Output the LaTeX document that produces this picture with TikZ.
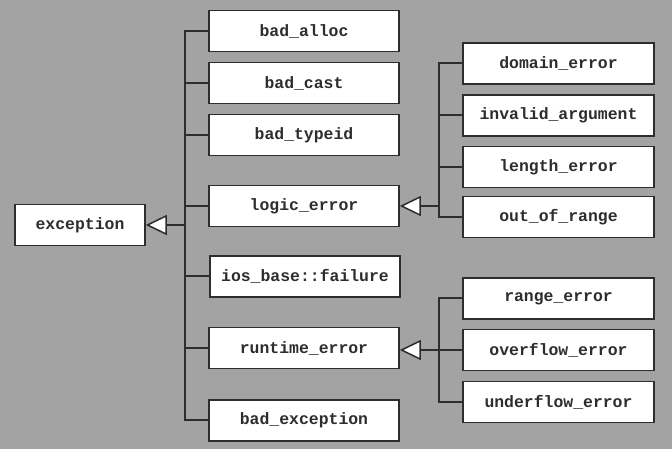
\documentclass[tikz,border=0pt]{standalone}
\usepackage{fontspec}
\setmonofont{Liberation Mono}
\usetikzlibrary{arrows.meta}
\definecolor{bggray}{RGB}{163,163,163}
\definecolor{inkgray}{RGB}{45,45,45}
\tikzset{
  cls/.style={draw=inkgray,line width=1.6bp,fill=white,rectangle,
    minimum width=190bp,minimum height=41bp,inner sep=0pt,
    text=inkgray,font=\ttfamily\bfseries\fontsize{16.5}{18}\selectfont},
  link/.style={draw=inkgray,line width=2bp},
  isa/.style={link,-{Triangle[fill=white,length=21bp,width=20bp,line width=1.5bp]}},
}
\begin{document}
\begin{tikzpicture}[line join=miter,]
    %%
    \fill [bggray] (0bp,0bp) rectangle (672bp,449bp);
    \useasboundingbox (0bp,0bp) rectangle (672bp,449bp);
    %%
    \node (exception) at (80.0bp,224.0bp) [cls,minimum width=130bp] {exception};
    \node (bad_alloc) at (304.0bp,418.0bp) [cls] {bad\_alloc};
    \node (bad_cast) at (304.0bp,366.0bp) [cls] {bad\_cast};
    \node (bad_typeid) at (304.0bp,314.0bp) [cls] {bad\_typeid};
    \node (logic_error) at (304.0bp,243.0bp) [cls] {logic\_error};
    \node (ios_failure) at (305.0bp,172.5bp) [cls] {ios\_base::failure};
    \node (runtime_error) at (304.0bp,101.0bp) [cls] {runtime\_error};
    \node (bad_exception) at (304.0bp,28.5bp) [cls] {bad\_exception};
    %
    \node (domain_error) at (558.5bp,385.5bp) [cls,minimum width=191bp] {domain\_error};
    \node (invalid_argument) at (558.5bp,333.5bp) [cls,minimum width=191bp] {invalid\_argument};
    \node (length_error) at (558.5bp,282.0bp) [cls,minimum width=191bp] {length\_error};
    \node (out_of_range) at (558.5bp,232.0bp) [cls,minimum width=191bp] {out\_of\_range};
    \node (range_error) at (558.5bp,150.5bp) [cls,minimum width=191bp] {range\_error};
    \node (overflow_error) at (558.5bp,99.0bp) [cls,minimum width=191bp] {overflow\_error};
    \node (underflow_error) at (558.5bp,47.0bp) [cls,minimum width=191bp] {underflow\_error};
    %%
    \coordinate (trunk) at (185.0bp,224.0bp);
    \coordinate (logic_bus) at (439.0bp,243.0bp);
    \coordinate (runtime_bus) at (439.0bp,99.0bp);
    %
    \draw [link] (bad_alloc.west) -| (trunk) |- (bad_exception.west);
    \draw [link] (bad_cast.west) -| (trunk);
    \draw [link] (bad_typeid.west) -| (trunk);
    \draw [link] (logic_error.west) -| (trunk);
    \draw [link] (ios_failure.west) -| (trunk);
    \draw [link] (runtime_error.west) -| (trunk);
    \draw [isa] (trunk) -- (exception);
    %
    \draw [link] (domain_error.west) -| (logic_bus) |- (out_of_range.west);
    \draw [link] (invalid_argument.west) -| (logic_bus);
    \draw [link] (length_error.west) -| (logic_bus);
    \draw [isa] (logic_bus) -- (logic_error);
    %
    \draw [link] (range_error.west) -| (runtime_bus) |- (underflow_error.west);
    \draw [link] (overflow_error.west) -- (runtime_bus);
    \draw [isa] (runtime_bus) -- (runtime_error.east |- runtime_bus);
    %
\end{tikzpicture}
\end{document}
